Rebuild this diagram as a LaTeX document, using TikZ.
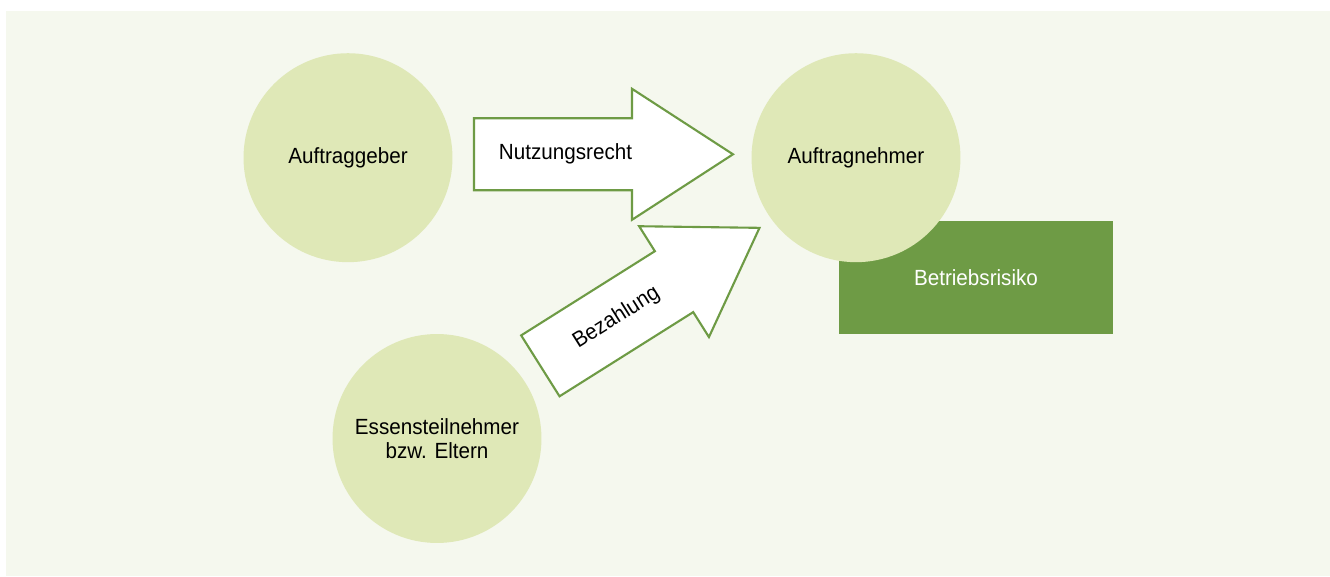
\documentclass[tikz,border=0pt]{standalone}
\usepackage{fontspec}
\setmainfont{Liberation Sans}[FakeStretch=0.94]
\usetikzlibrary{positioning}
\definecolor{panelbg}{HTML}{F5F8EE}
\definecolor{blob}{HTML}{DFE8B7}
\definecolor{leaf}{HTML}{6E9B45}
\tikzset{blockarrow/.pic={
	\draw[leaf, line width=1.2pt, fill=white, line join=miter]
		(0,-36) -- (158,-36) -- (158,-65.5) -- (259,0) -- (158,65.5) -- (158,36) -- (0,36) -- cycle;
}}

\begin{document}
\begin{tikzpicture}[x=0.02cm, y=0.02cm,
		party/.style={circle, fill=blob, minimum size=4.18cm, inner sep=0pt, align=center, font=\fontsize{12.5}{13.7}\selectfont},
		risk/.style={rectangle, fill=leaf, text=white, minimum width=5.48cm, minimum height=2.26cm, font=\fontsize{12.5}{14}\selectfont},
		flow/.style={inner sep=0pt, font=\fontsize{12.5}{14}\selectfont}]
	\useasboundingbox (0,0) rectangle (1330,576);
	\fill[panelbg] (6,0) rectangle (1330,565);
	\node[risk] (risiko) at (976,298.5) {Betriebsrisiko};
	\node[party] (geber) at (348,418.3) {Auftraggeber};
	\node[party] (nehmer) at (856,418.3) {Auftragnehmer};
	\node[party] (eltern) at (437,137.5) {Essensteilnehmer\\bzw. Eltern};
	\pic at (474,421.7) {blockarrow};
	\pic[rotate=32.2] at (540.35,210.15) {blockarrow};
	\node[flow] (nutzung) at (565.5,421.7) {Nutzungsrecht};
	\node[flow, rotate=32.2] (zahlung) at (616.5,258.1) {Bezahlung};
\end{tikzpicture}
\end{document}
